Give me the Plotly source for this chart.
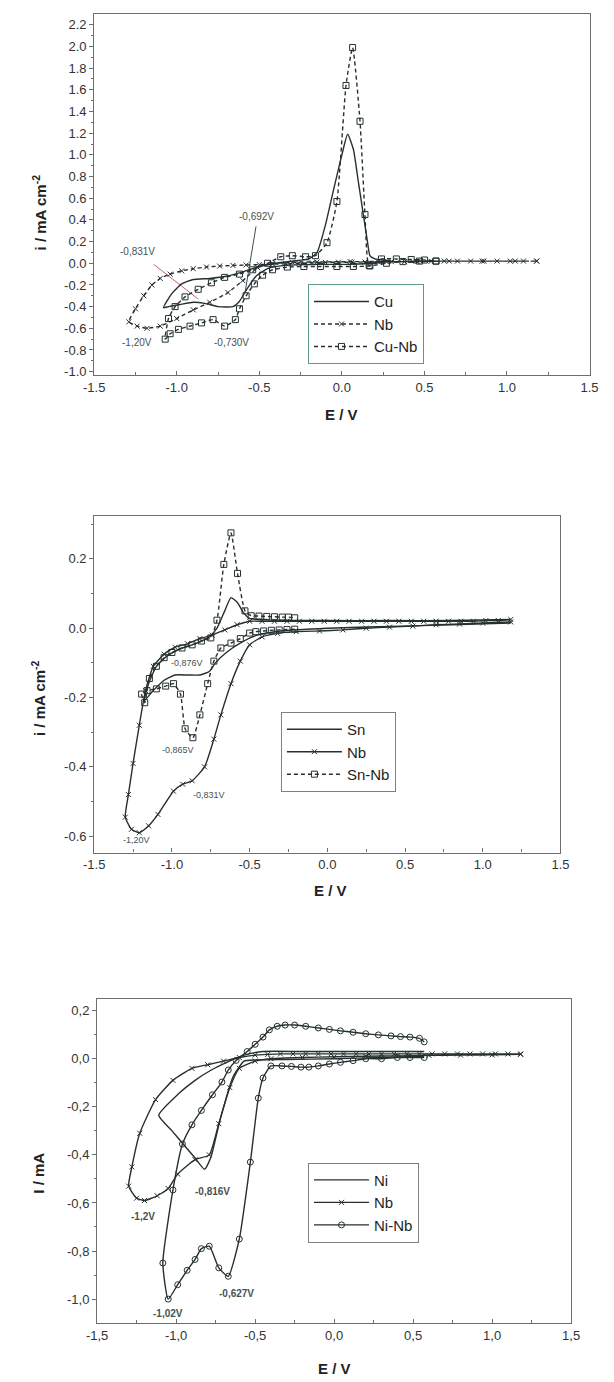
import plotly.graph_objects as go

# ---------------- data: panel 1 (Cu / Nb / Cu-Nb) ----------------
cu_E = [0.30, 0.20, 0.05, -0.15, -0.35, -0.45, -0.52, -0.58, -0.62, -0.66, -0.75, -0.83, -0.90, -0.98, -1.05, -1.08,
        -1.03, -0.97, -0.90, -0.80, -0.70, -0.60, -0.50, -0.40, -0.30, -0.20, -0.15, -0.10, -0.05, 0.00, 0.035,
        0.07, 0.10, 0.13, 0.155, 0.17, 0.20, 0.30]
cu_i = [0.02, 0.00, -0.01, -0.01, -0.02, -0.05, -0.12, -0.25, -0.35, -0.40, -0.40, -0.37, -0.36, -0.38, -0.40, -0.41,
        -0.28, -0.19, -0.15, -0.14, -0.12, -0.08, -0.03, 0.00, 0.02, 0.04, 0.10, 0.35, 0.68, 1.00, 1.19,
        1.05, 0.75, 0.45, 0.20, 0.07, 0.04, 0.02]

nb1_E = [1.18, 1.10, 1.02, 0.94, 0.86, 0.78, 0.70, 0.62, 0.54, 0.46, 0.38, 0.30, 0.22, 0.14, 0.06, -0.02, -0.10,
         -0.18, -0.26, -0.34, -0.42, -0.50, -0.58, -0.66, -0.74, -0.82, -0.90, -0.97, -1.04, -1.10, -1.15, -1.20,
         -1.25, -1.29, -1.24, -1.18, -1.10, -1.00, -0.90, -0.80, -0.69, -0.60, -0.51, -0.42, -0.30, -0.15, 0.05,
         0.25, 0.45, 0.65, 0.85, 1.05, 1.18]
nb1_i = [0.02, 0.02, 0.02, 0.02, 0.02, 0.02, 0.02, 0.02, 0.018, 0.016, 0.015, 0.015, 0.014, 0.012, 0.01, 0.01, 0.008,
         0.005, 0.0, -0.004, -0.008, -0.012, -0.016, -0.02, -0.026, -0.035, -0.05, -0.07, -0.10, -0.14, -0.20, -0.30,
         -0.42, -0.54, -0.58, -0.60, -0.58, -0.51, -0.43, -0.36, -0.27, -0.16, -0.04, 0.0, 0.01, 0.012, 0.015,
         0.016, 0.018, 0.02, 0.02, 0.02, 0.02]

cunb_E = [0.57, 0.47, 0.37, 0.27, 0.17, 0.07, -0.03, -0.13, -0.23, -0.33, -0.42, -0.48, -0.53, -0.58, -0.62, -0.645,
          -0.71, -0.78, -0.85, -0.92, -0.99, -1.04, -1.07, -1.05, -1.01, -0.95, -0.87, -0.79, -0.71, -0.62, -0.54,
          -0.45, -0.37, -0.30, -0.22, -0.16, -0.09, -0.03, 0.025, 0.065, 0.11, 0.14, 0.165, 0.24, 0.33, 0.42, 0.50,
          0.57]
cunb_i = [0.02, 0.02, 0.015, 0.0, -0.025, -0.03, -0.03, -0.03, -0.03, -0.035, -0.06, -0.11, -0.19, -0.30, -0.42, -0.52,
          -0.58, -0.52, -0.55, -0.58, -0.61, -0.65, -0.70, -0.51, -0.40, -0.31, -0.24, -0.18, -0.13, -0.10, -0.06,
          0.00, 0.06, 0.07, 0.06, 0.07, 0.19, 0.57, 1.64, 1.99, 1.31, 0.45, -0.02, 0.04, 0.04, 0.035, 0.03,
          0.02]

# ---------------- data: panel 2 (Sn / Nb / Sn-Nb) ----------------
sn_E = [1.18, 0.80, 0.40, 0.00, -0.30, -0.45, -0.55, -0.65, -0.72, -0.76, -0.82, -0.90, -0.98, -1.05, -1.12, -1.18,
        -1.15, -1.10, -1.03, -0.95, -0.85, -0.76, -0.71, -0.66, -0.62, -0.58, -0.54, -0.50, -0.40, 0.00, 0.40, 0.80,
        1.18]
sn_i = [0.015, 0.01, 0.005, 0.0, -0.008, -0.02, -0.04, -0.07, -0.10, -0.125, -0.135, -0.135, -0.135, -0.15, -0.18,
        -0.21, -0.16, -0.11, -0.08, -0.06, -0.045, -0.025, 0.0, 0.05, 0.088, 0.075, 0.045, 0.028, 0.024, 0.022,
        0.022, 0.022, 0.025]

nb2_E = [1.18, 1.10, 1.02, 0.94, 0.86, 0.78, 0.70, 0.62, 0.54, 0.46, 0.38, 0.30, 0.22, 0.14, 0.06, -0.02, -0.10,
         -0.18, -0.26, -0.34, -0.42, -0.50, -0.58, -0.66, -0.74, -0.82, -0.90, -0.98, -1.05, -1.12, -1.17, -1.21,
         -1.25, -1.28, -1.30, -1.26, -1.21, -1.15, -1.09, -0.99, -0.93, -0.87, -0.79, -0.73, -0.685, -0.62, -0.56,
         -0.50, -0.42, -0.32, -0.20, -0.05, 0.10, 0.25, 0.40, 0.55, 0.70, 0.85, 1.00, 1.18]
nb2_i = [0.025, 0.022, 0.022, 0.02, 0.02, 0.02, 0.02, 0.02, 0.02, 0.02, 0.02, 0.02, 0.02, 0.02, 0.02, 0.02, 0.02,
         0.02, 0.02, 0.02, 0.02, 0.02, 0.01, -0.005, -0.02, -0.03, -0.045, -0.055, -0.075, -0.11, -0.18, -0.28,
         -0.39, -0.48, -0.545, -0.58, -0.59, -0.57, -0.537, -0.47, -0.45, -0.44, -0.40, -0.32, -0.25, -0.16, -0.095,
         -0.048, -0.025, -0.015, -0.01, -0.008, -0.005, 0.0, 0.003, 0.006, 0.01, 0.012, 0.015, 0.018]

snnb_E = [-0.21, -0.26, -0.31, -0.36, -0.41, -0.46, -0.50, -0.56, -0.62, -0.685, -0.73, -0.77, -0.82, -0.865, -0.915,
          -0.945, -0.99, -1.04, -1.10, -1.16, -1.195, -1.175, -1.145, -1.10, -1.05, -1.00, -0.935, -0.87, -0.81,
          -0.75, -0.71, -0.666, -0.62, -0.578, -0.53, -0.49, -0.44, -0.39, -0.34, -0.29, -0.25, -0.21]
snnb_i = [-0.003, -0.004, -0.005, -0.006, -0.008, -0.01, -0.014, -0.03, -0.043, -0.057, -0.095, -0.16, -0.25, -0.316,
          -0.29, -0.19, -0.16, -0.167, -0.175, -0.18, -0.19, -0.215, -0.145, -0.11, -0.085, -0.07, -0.057, -0.048,
          -0.037, -0.028, 0.023, 0.184, 0.275, 0.158, 0.05, 0.036, 0.035, 0.034, 0.033, 0.032, 0.032, 0.03]

# ---------------- data: panel 3 (Ni / Nb / Ni-Nb) ----------------
ni_E = [0.57, 0.30, 0.00, -0.30, -0.50, -0.57, -0.64, -0.72, -0.78, -0.82, -0.88, -0.95, -1.03, -1.11, -0.985, -0.88,
        -0.78, -0.68, -0.57, -0.45, -0.20, 0.20, 0.57]
ni_i = [0.01, 0.005, 0.0, -0.003, -0.005, -0.01, -0.076, -0.25, -0.41, -0.46, -0.413, -0.359, -0.297, -0.235, -0.146,
        -0.09, -0.048, -0.015, 0.015, 0.03, 0.03, 0.03, 0.03]

nb3_E = [1.18, 1.10, 1.02, 0.94, 0.86, 0.78, 0.70, 0.62, 0.54, 0.46, 0.38, 0.30, 0.22, 0.14, 0.06, -0.02, -0.10,
         -0.18, -0.26, -0.34, -0.42, -0.50, -0.60, -0.70, -0.80, -0.90, -1.02, -1.13, -1.23, -1.28, -1.30, -1.25,
         -1.20, -1.12, -1.05, -0.99, -0.88, -0.79, -0.73, -0.66, -0.60, -0.50, -0.40, -0.20, 0.00, 0.20, 0.40, 0.60,
         0.80, 1.00, 1.18]
nb3_i = [0.02, 0.02, 0.02, 0.02, 0.02, 0.02, 0.02, 0.02, 0.02, 0.02, 0.02, 0.02, 0.02, 0.02, 0.02, 0.02, 0.02, 0.02,
         0.02, 0.02, 0.018, 0.015, 0.005, -0.01, -0.025, -0.04, -0.09, -0.17, -0.31, -0.45, -0.53, -0.58, -0.59,
         -0.57, -0.54, -0.48, -0.42, -0.40, -0.27, -0.12, -0.04, -0.01, 0.0, 0.005, 0.008, 0.01, 0.012, 0.014, 0.015,
         0.016, 0.018]

ninb_E = [0.57, 0.48, 0.40, 0.30, 0.20, 0.12, 0.04, -0.03, -0.10, -0.16, -0.21, -0.27, -0.33, -0.40, -0.45, -0.48,
          -0.53, -0.60, -0.67, -0.73, -0.79, -0.84, -0.88, -0.93, -0.99, -1.05, -1.084, -1.02, -0.96, -0.90, -0.84,
          -0.77, -0.71, -0.67, -0.62, -0.55, -0.50, -0.45, -0.41, -0.36, -0.31, -0.25, -0.18, -0.10, -0.03, 0.04,
          0.12, 0.20, 0.28, 0.36, 0.42, 0.48, 0.54, 0.57]
ninb_i = [0.005, 0.005, 0.005, 0.0, 0.0, -0.008, -0.015, -0.022, -0.03, -0.035, -0.035, -0.032, -0.03, -0.03, -0.08,
          -0.164, -0.43, -0.75, -0.905, -0.87, -0.78, -0.79, -0.835, -0.88, -0.94, -1.0, -0.85, -0.546, -0.355,
          -0.275, -0.215, -0.15, -0.097, -0.047, -0.007, 0.03, 0.06, 0.09, 0.12, 0.135, 0.14, 0.14, 0.135, 0.128,
          0.122, 0.116, 0.11, 0.104, 0.099, 0.095, 0.092, 0.09, 0.085, 0.07]

# ---------------- annotation pointer lines (E, i) ----------------
red_ptr_E = [-1.14, -0.87]
red_ptr_i = [-0.01, -0.33]
dark_ptr_E = [-0.52, -0.586]
dark_ptr_i = [0.34, -0.267]

# ---------------- tick labels ----------------
x_vals = [-1.5, -1.0, -0.5, 0.0, 0.5, 1.0, 1.5]
x_text_dot = ["-1.5", "-1.0", "-0.5", "0.0", "0.5", "1.0", "1.5"]
x_text_comma = ["-1,5", "-1,0", "-0,5", "0,0", "0,5", "1,0", "1,5"]
y1_vals = [2.2, 2.0, 1.8, 1.6, 1.4, 1.2, 1.0, 0.8, 0.6, 0.4, 0.2, 0.0, -0.2, -0.4, -0.6, -0.8, -1.0]
y1_text = ["2.2", "2.0", "1.8", "1.6", "1.4", "1.2", "1.0", "0.8", "0.6", "0.4", "0.2", "0.0", "-0.2", "-0.4",
           "-0.6", "-0.8", "-1.0"]
y2_vals = [0.2, 0.0, -0.2, -0.4, -0.6]
y2_text = ["0.2", "0.0", "-0.2", "-0.4", "-0.6"]
y3_vals = [0.2, 0.0, -0.2, -0.4, -0.6, -0.8, -1.0]
y3_text = ["0,2", "0,0", "-0,2", "-0,4", "-0,6", "-0,8", "-1,0"]

# ---------------- styling ----------------
C = "#263030"
AX = "#6b6f6f"
FONT = "Liberation Sans, Arial, sans-serif"
W, H = 614, 1382

fig = go.Figure()


def add(E, I, name, ax, leg, dash="solid", symbol=None, msize=6):
    mode = "lines+markers" if symbol else "lines"
    mk = dict(symbol=symbol, size=msize, color=C, line=dict(width=1, color=C)) if symbol else None
    fig.add_trace(go.Scatter(
        x=E, y=I, name=name, mode=mode, legend=leg,
        xaxis="x" + ax, yaxis="y" + ax,
        line=dict(color=C, width=1.4, dash=dash, shape="spline", smoothing=0.5),
        marker=mk, hoverinfo="skip"))


# pointer lines in panel 1 (no legend)
fig.add_trace(go.Scatter(x=red_ptr_E, y=red_ptr_i, mode="lines", showlegend=False, hoverinfo="skip",
                         line=dict(color="#d46262", width=1), xaxis="x", yaxis="y"))
fig.add_trace(go.Scatter(x=dark_ptr_E, y=dark_ptr_i, mode="lines", showlegend=False, hoverinfo="skip",
                         line=dict(color="#3c5050", width=1), xaxis="x", yaxis="y"))

add(cu_E, cu_i, "Cu", "", "legend")
add(nb1_E, nb1_i, "Nb", "", "legend", dash="4px,3px", symbol="x-thin", msize=5)
add(cunb_E, cunb_i, "Cu-Nb", "", "legend", dash="4px,3px", symbol="square-open", msize=6)

add(sn_E, sn_i, "Sn", "2", "legend2")
add(nb2_E, nb2_i, "Nb", "2", "legend2", symbol="x-thin", msize=5)
add(snnb_E, snnb_i, "Sn-Nb", "2", "legend2", dash="4px,3px", symbol="square-open", msize=6)

add(ni_E, ni_i, "Ni", "3", "legend3")
add(nb3_E, nb3_i, "Nb", "3", "legend3", symbol="x-thin", msize=5)
add(ninb_E, ninb_i, "Ni-Nb", "3", "legend3", symbol="circle-open", msize=6)


def px_x(p):
    return p / W


def px_y(p):
    return 1 - p / H


TICKF = dict(family=FONT, size=13, color="#333")


def xaxis(dom, anchor, text):
    return dict(domain=dom, anchor=anchor, range=[-1.5, 1.5], tickvals=x_vals, ticktext=text,
                showline=True, mirror=True, linecolor=AX, linewidth=1.2, showgrid=False, zeroline=False,
                ticks="inside", ticklen=4, tickcolor=AX, tickfont=TICKF,
                minor=dict(tickvals=[-1.25, -0.75, -0.25, 0.25, 0.75, 1.25], ticks="inside", ticklen=3,
                           tickcolor=AX))


def yaxis(dom, anchor, rng, vals, text, minor_vals):
    return dict(domain=dom, anchor=anchor, range=rng, tickvals=vals, ticktext=text,
                showline=True, mirror=True, linecolor=AX, linewidth=1.2, showgrid=False, zeroline=False,
                ticks="outside", ticklen=4, tickcolor=AX, tickfont=TICKF,
                minor=dict(tickvals=minor_vals, ticks="outside", ticklen=2, tickcolor=AX))


y1_minor = [round(-0.9 + 0.2 * k, 2) for k in range(16)]
y2_minor = [0.3, 0.1, -0.1, -0.3, -0.5]
y3_minor = [0.1, -0.1, -0.3, -0.5, -0.7, -0.9]

leg_common = dict(bgcolor="white", borderwidth=1, font=dict(family=FONT, size=15, color="#1e1e1e"),
                  itemwidth=55, tracegroupgap=0, xanchor="left", yanchor="top", itemclick=False)

fig.update_layout(
    width=W, height=H, margin=dict(l=0, r=0, t=0, b=0),
    paper_bgcolor="white", plot_bgcolor="white",
    xaxis=xaxis([px_x(86), px_x(598)], "y", x_text_dot),
    yaxis=yaxis([px_y(376), px_y(14)], "x", [-1.03, 2.30], y1_vals, y1_text, y1_minor),
    xaxis2=xaxis([px_x(86), px_x(568)], "y2", x_text_dot),
    yaxis2=yaxis([px_y(855), px_y(517)], "x2", [-0.647, 0.325], y2_vals, y2_text, y2_minor),
    xaxis3=xaxis([px_x(89), px_x(579)], "y3", x_text_comma),
    yaxis3=yaxis([px_y(1327), px_y(1002)], "x3", [-1.10, 0.248], y3_vals, y3_text, y3_minor),
    legend=dict(x=px_x(307), y=px_y(285), bordercolor="#5e9a8c", **leg_common),
    legend2=dict(x=px_x(279), y=px_y(714), bordercolor="#808080", **leg_common),
    legend3=dict(x=px_x(307), y=px_y(1166), bordercolor="#808080", **leg_common),
)

ann = []


def lab(text, x, y, ax, size=10, bold=False):
    ann.append(dict(text=("<b>%s</b>" % text) if bold else text, x=x, y=y, xref="x" + ax, yref="y" + ax,
                    showarrow=False, font=dict(family=FONT, size=size, color="#475252")))


lab("-0,831V", -1.24, 0.11, "")
lab("-0,692V", -0.52, 0.43, "")
lab("-1,20V", -1.24, -0.73, "")
lab("-0,730V", -0.67, -0.73, "")

lab("-0,876V", -0.90, -0.10, "2", size=9)
lab("-0,865V", -0.96, -0.35, "2", size=9)
lab("-0,831V", -0.76, -0.48, "2", size=9)
lab("-1,20V", -1.23, -0.612, "2", size=9)

lab("-1,2V", -1.21, -0.658, "3", bold=True)
lab("-0,816V", -0.77, -0.554, "3", bold=True)
lab("-0,627V", -0.62, -0.977, "3", bold=True)
lab("-1,02V", -1.05, -1.06, "3", bold=True)

TT = dict(family=FONT, size=15, color="#222")
for text, yc in [("<b>i / mA cm<sup>-2</sup></b>", 213), ("<b>i / mA cm<sup>-2</sup></b>", 700),
                 ("<b>I / mA</b>", 1177)]:
    ann.append(dict(text=text, x=px_x(29), y=px_y(yc), xref="paper", yref="paper", textangle=-90,
                    showarrow=False, font=TT, xanchor="center", yanchor="middle"))
for xc, yc in [(342, 416), (330, 893), (334, 1372)]:
    ann.append(dict(text="<b>E / V</b>", x=px_x(xc), y=px_y(yc), xref="paper", yref="paper",
                    showarrow=False, font=TT, xanchor="center", yanchor="middle"))

fig.update_layout(annotations=ann)
fig.write_html("out.html")
